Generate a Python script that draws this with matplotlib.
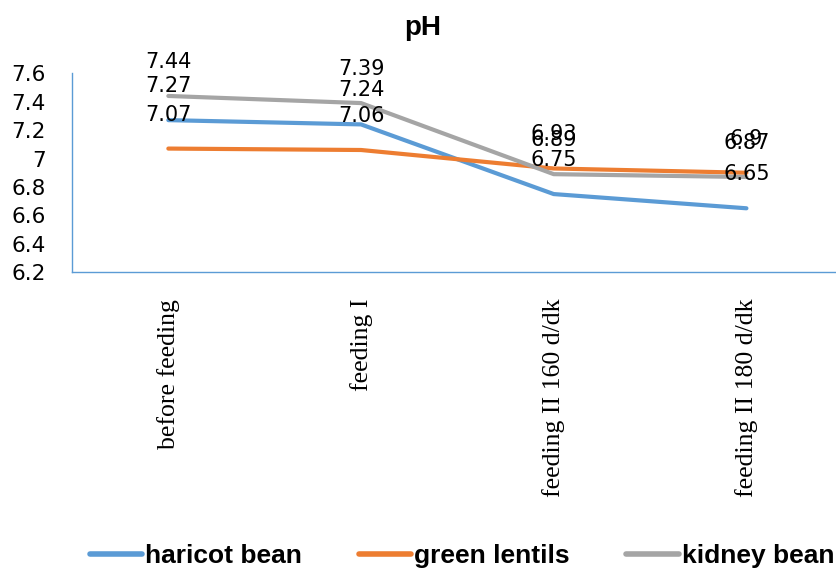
import matplotlib
matplotlib.use("Agg")
import matplotlib.pyplot as plt

categories = ["before feeding", "feeding I", "feeding II 160 d/dk", "feeding II 180 d/dk"]
haricot = [7.27, 7.24, 6.75, 6.65]
lentils = [7.07, 7.06, 6.93, 6.90]
kidney = [7.44, 7.39, 6.89, 6.87]
series_names = ["haricot bean", "green lentils", "kidney bean"]
colors = ["#5B9BD5", "#ED7D31", "#A5A5A5"]

fig = plt.figure(figsize=(8.37, 5.72), dpi=100)
ax = fig.add_axes([0.086, 0.524, 0.914, 0.348])

x = list(range(len(categories)))
for vals, name, col in zip([haricot, lentils, kidney], series_names, colors):
    ax.plot(x, vals, color=col, lw=3, label=name, solid_capstyle="round")
    for xi, v in zip(x, vals):
        ax.annotate(f"{v:g}", (xi, v), xytext=(0, 24.5), textcoords="offset points",
                    ha="center", va="center", fontsize=15, color="black",
                    annotation_clip=False)

ax.set_xlim(-0.5, 3.47)
ax.set_ylim(6.2, 7.6)
ax.set_yticks([6.2, 6.4, 6.6, 6.8, 7.0, 7.2, 7.4, 7.6])
ax.set_yticklabels(["6.2", "6.4", "6.6", "6.8", "7", "7.2", "7.4", "7.6"], fontsize=15.5)
ax.set_xticks(x)
ax.set_xticklabels(categories, rotation=90, fontsize=18.5, family="Liberation Serif", va="top")
ax.tick_params(axis="y", length=0, pad=19)
ax.tick_params(axis="x", length=0, pad=19)

for s in ["top", "right"]:
    ax.spines[s].set_visible(False)
for s in ["left", "bottom"]:
    ax.spines[s].set_color("#5B9BD5")
    ax.spines[s].set_linewidth(1)

fig.text(0.505, 1 - 28 / 572, "pH", ha="center", va="center", fontsize=20,
         fontweight="bold", family="Liberation Sans")

leg = fig.legend(loc="center", bbox_to_anchor=(0.552, 1 - 556 / 572), ncol=3, frameon=False,
                 prop={"family": ["Liberation Sans Narrow", "Liberation Sans"], "weight": "bold", "size": 19},
                 handlelength=2.0, columnspacing=2.15, handletextpad=0.1)
for h in leg.get_lines():
    h.set_linewidth(4)

fig.savefig("out.png", dpi=100)
